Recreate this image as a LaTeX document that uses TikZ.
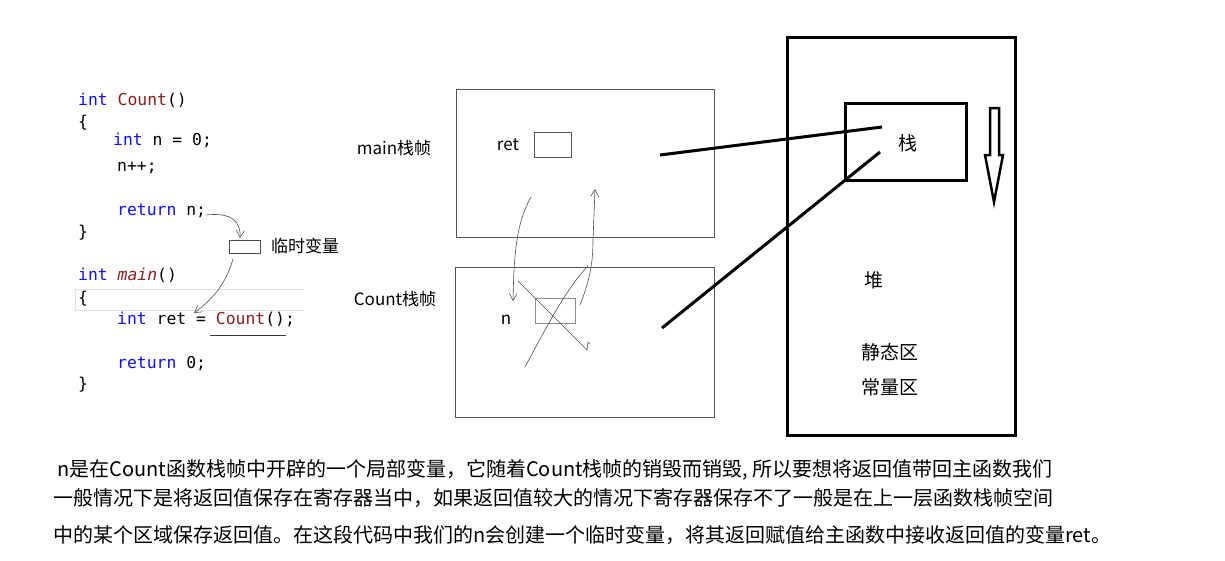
\documentclass[tikz,border=0pt]{standalone}
\usepackage{fontspec}
\setmainfont{Noto Sans CJK SC}
\setmonofont{DejaVu Sans Mono}
\usetikzlibrary{arrows.meta}
\definecolor{kw}{HTML}{1010F0}
\definecolor{fn}{HTML}{8A1E1E}
\definecolor{framec}{HTML}{555555}
\definecolor{handc}{HTML}{505050}
\begin{document}
\begin{tikzpicture}[x=1pt,y=-1pt,
  code/.style={anchor=west, inner sep=0pt, font=\ttfamily\fontsize{16.4}{19}\selectfont, text height=12pt, text depth=4pt},
  lbl/.style={inner sep=0pt, font=\fontsize{17}{20}\selectfont},
  big/.style={inner sep=0pt, font=\fontsize{19}{22}\selectfont},
  para/.style={anchor=west, inner sep=0pt, font=\fontsize{20}{24}\selectfont},
  framebox/.style={draw=framec, line width=0.8pt, inner sep=0pt},
  heavy/.style={draw=black, line width=3pt, inner sep=0pt},
  hand/.style={draw=handc, line width=0.6pt},
  barb/.style={-{Straight Barb[length=7pt,width=8pt]}}
]
\useasboundingbox[fill=white] (0,0) rectangle (1225,560);

% ---------- code ----------
\draw[draw=black!12, line width=0.8pt] (304,289) -- (75,289) -- (75,310) -- (304,310);
\node[code] (c1) at (78,101) {\textcolor{kw}{int} \textcolor{fn}{Count}()};
\node[code] (c2) at (78,123) {\{};
\node[code] (c3) at (113,141) {\textcolor{kw}{int} n = 0;};
\node[code] (c4) at (117,167) {n++;};
\node[code] (c5) at (117,211) {\textcolor{kw}{return} n;};
\node[code] (c6) at (78,233) {\}};
\node[code] (c7) at (78,276) {\textcolor{kw}{int} \textcolor{fn}{\itshape main}()};
\node[code] (c8) at (78,299) {\{};
\node[code] (c9) at (117,320) {\textcolor{kw}{int} ret = \textcolor{fn}{Count}();};
\node[code] (c10) at (117,364) {\textcolor{kw}{return} 0;};
\node[code] (c11) at (78,385) {\}};
\coordinate (ulA) at (210,335);
\coordinate (ulB) at (286,335);
\draw[black!80, line width=0.8pt] (ulA) -- (ulB);

% temp variable box
\node[framebox, draw=black!70, minimum width=31pt, minimum height=13pt] (tmp) at (244.5,246.5) {};
\node[lbl, anchor=west] (tmpl) at (271,246) {临时变量};
\coordinate (retn) at (206,215);
\coordinate (tmpin) at (240,238);
\draw[hand, barb] (retn) .. controls (232,212) and (241,222) .. (tmpin);
\coordinate (tmpout) at (233,259);
\coordinate (eqin) at (194,313);
\draw[hand, barb] (tmpout) .. controls (226,284) and (212,300) .. (eqin);

% ---------- stack frames ----------
\node[framebox, minimum width=258pt, minimum height=148pt] (mainf) at (585,163) {};
\node[framebox, minimum width=259pt, minimum height=150pt] (countf) at (584.5,342) {};
\node[lbl] (mainl) at (394,148) {main栈帧};
\node[lbl] (countl) at (395,299) {Count栈帧};
\node[lbl] (retl) at (508,145) {ret};
\node[framebox, minimum width=37pt, minimum height=25pt] (retbox) at (552.5,144.5) {};
\node[lbl] (nl) at (506,320) {n};
\node[framebox, draw=black!45, minimum width=40pt, minimum height=25pt] (nbox) at (555,310.5) {};

% hand-drawn arrows between frames
\coordinate (a1s) at (531,197);
\coordinate (a1e) at (513,301);
\draw[hand, barb] (a1s) .. controls (517,222) and (514,250) .. (a1e);
\coordinate (a2s) at (580,305);
\coordinate (a2e) at (595,189);
\draw[hand, barb] (a2s) .. controls (590,280) and (593,262) .. (593,240) -- (a2e);
% cross over n
\coordinate (x1s) at (518,281);
\coordinate (x1e) at (587,350);
\draw[hand] (x1s) -- (x1e) -- (588,342) -- (590,344);
\coordinate (x2s) at (525,367);
\coordinate (x2e) at (588,266);
\draw[hand] (x2s) .. controls (545,330) and (565,290) .. (x2e);

% ---------- memory ----------
\node[heavy, minimum width=228pt, minimum height=398pt] (mem) at (901,236) {};
\node[heavy, minimum width=121pt, minimum height=77pt] (stk) at (905.5,141.5) {};
\node[big] (stkl) at (908,143) {栈};
\node[big] (heapl) at (874,280) {堆};
\node[big] (statl) at (890,352) {静态区};
\node[big] (constl) at (890,387) {常量区};
\draw[black, line width=2.5pt, line join=miter]
  (990,108) -- (999,108) -- (999,155) -- (1003,155) -- (994,202) -- (985,155) -- (990,155) -- cycle;

\coordinate (l1s) at (660,155);
\coordinate (l1e) at (882,127);
\coordinate (l2s) at (662,328);
\coordinate (l2e) at (880,152);
\draw[black, line width=3pt] (l1s) -- (l1e);
\draw[black, line width=3pt] (l2s) -- (l2e);

% ---------- paragraph ----------
\node[para] (p1) at (57,470) {n是在Count函数栈帧中开辟的一个局部变量，它随着Count栈帧的销毁而销毁, 所以要想将返回值带回主函数我们};
\node[para] (p2) at (53,498) {一般情况下是将返回值保存在寄存器当中，如果返回值较大的情况下寄存器保存不了一般是在上一层函数栈帧空间};
\node[para] (p3) at (53,535) {中的某个区域保存返回值。在这段代码中我们的n会创建一个临时变量，将其返回赋值给主函数中接收返回值的变量ret。};
\end{tikzpicture}
\end{document}
